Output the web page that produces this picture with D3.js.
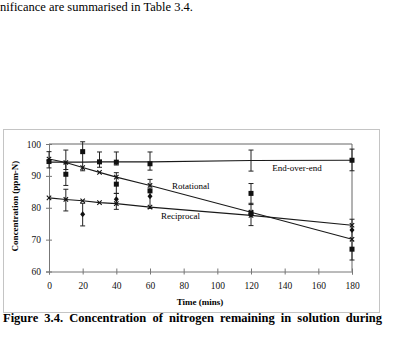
<!DOCTYPE html>
<html><head><meta charset="utf-8">
<script src="https://cdn.jsdelivr.net/npm/d3@7"></script>
<style>
html,body{margin:0;padding:0;background:#fff;}
svg{display:block;}
svg text{font-family:"Liberation Serif","Tinos","Times New Roman","DejaVu Serif",serif;}
</style></head>
<body><svg id="c" width="398" height="338"></svg>
<script>
// ---- data ----
const times = [0, 10, 20, 30, 40, 60, 120, 180];
const endOverEnd = [94.3, 94.3, 94.3, 94.4, 94.4, 94.4, 94.8, 94.9];
const rotational = [95.3, 94.2, 92.6, 91.1, 89.6, 87.0, 78.6, 70.1];
const reciprocal = [83.1, 82.6, 82.2, 81.6, 81.3, 80.2, 77.6, 74.5];
const squareT = [0, 10, 20, 30, 40, 40, 60, 60, 120, 120, 180, 180];
const squareV = [94.5, 90.5, 97.6, 94.4, 94.3, 87.4, 93.8, 85.3, 84.5, 78.3, 94.9, 67.0];
const diamondT = [20, 40, 60, 120, 180];
const diamondV = [78.0, 82.7, 83.6, 77.8, 73.0];
const errT =    [0,    10,   10,   10,   20,    20,   30,   40,   40,   40,   60,   60,   120,  120,  120,  180,  180];
const errLow =  [92.5, 92.0, 87.0, 79.0, 91.6,  74.3, 92.7, 93.4, 84.5, 79.5, 91.8, 79.8, 91.5, 81.0, 74.4, 91.6, 63.6];
const errHigh = [97.6, 98.1, 94.0, 85.8, 100.7, 81.4, 97.5, 97.5, 91.0, 84.5, 97.5, 88.9, 98.1, 87.6, 81.4, 98.4, 76.4];
const xTicks = [0, 20, 40, 60, 80, 100, 120, 140, 160, 180];
const yTicks = [60, 70, 80, 90, 100];
const seriesNames = ["End-over-end", "Rotational", "Reciprocal"];

const FONT = "Liberation Serif, Tinos, Times New Roman, DejaVu Serif, serif";
const svg = d3.select("#c");
const x = d3.scaleLinear().domain([0, 180]).range([49, 352]);
const y = d3.scaleLinear().domain([60, 100]).range([271.5, 144]);

// top text of the page
svg.append("text").attr("x", 0).attr("y", 11).attr("font-size", 12.5).attr("font-family", FONT)
  .text("nificance are summarised in Table 3.4.");

// outer chart box
svg.append("rect").attr("x", 3.5).attr("y", 129.5).attr("width", 376).attr("height", 183)
  .attr("fill", "none").attr("stroke", "#c4c4c4").attr("stroke-width", 1);

// plot border (top, right)
svg.append("path").attr("d", `M${x(0)},${y(100)}H${x(180)}V${y(60)}`)
  .attr("fill", "none").attr("stroke", "#666").attr("stroke-width", 1);

// axes
const xAxis = svg.append("g").attr("transform", `translate(0,${y(60)})`)
  .call(d3.axisBottom(x).tickValues(xTicks).tickSize(3).tickPadding(8).tickFormat(d3.format("d")));
xAxis.selectAll(".tick line").attr("y1", -3);
const yAxis = svg.append("g").attr("transform", `translate(${x(0)},0)`)
  .call(d3.axisLeft(y).tickValues(yTicks).tickSize(3).tickPadding(5).tickFormat(d3.format("d")));
yAxis.selectAll(".tick line").attr("x1", 3).attr("x2", -3);
[xAxis, yAxis].forEach(a => {
  a.attr("font-family", FONT);
  a.select(".domain").attr("stroke", "#777");
  a.selectAll(".tick line").attr("stroke", "#777");
  a.selectAll("text").attr("font-family", FONT).attr("font-size", 9.5).attr("fill", "#111");
});

// axis titles
svg.append("text").attr("x", 200).attr("y", 305).attr("text-anchor", "middle").attr("font-family", FONT)
  .attr("font-size", 9).attr("font-weight", "bold").text("Time (mins)");
svg.append("text").attr("transform", "translate(18,206) rotate(-90)").attr("text-anchor", "middle")
  .attr("font-family", FONT).attr("font-size", 9).attr("font-weight", "bold").text("Concentration (ppm-N)");

// error bars
const eb = svg.append("g").attr("stroke", "#222").attr("stroke-width", 1).attr("fill", "none");
errT.forEach((t, i) => {
  const cx = x(t);
  eb.append("path").attr("d",
    `M${cx},${y(errLow[i])}V${y(errHigh[i])}M${cx-2.5},${y(errLow[i])}h5M${cx-2.5},${y(errHigh[i])}h5`);
});

// mean lines
const line = d3.line().x((d, i) => x(times[i])).y(d => y(d));
[endOverEnd, rotational, reciprocal].forEach(s => {
  svg.append("path").datum(s).attr("d", line).attr("fill", "none")
    .attr("stroke", "#1a1a1a").attr("stroke-width", 1.1);
});

// x markers on means
const xm = svg.append("g").attr("stroke", "#111").attr("stroke-width", 1.1);
[rotational, reciprocal].forEach(s => {
  s.forEach((v, i) => {
    const cx = x(times[i]), cy = y(v);
    xm.append("path").attr("d", `M${cx-2.2},${cy-2.2}L${cx+2.2},${cy+2.2}M${cx-2.2},${cy+2.2}L${cx+2.2},${cy-2.2}`);
  });
});

// squares
svg.append("g").selectAll("rect").data(squareV).join("rect")
  .attr("x", (d, i) => x(squareT[i]) - 2.5).attr("y", d => y(d) - 2.5)
  .attr("width", 5).attr("height", 5).attr("fill", "#111");
// diamonds
svg.append("g").selectAll("path").data(diamondV).join("path")
  .attr("d", (d, i) => { const cx = x(diamondT[i]), cy = y(d); return `M${cx},${cy-3}L${cx+2.5},${cy}L${cx},${cy+3}L${cx-2.5},${cy}Z`; })
  .attr("fill", "#111");

// series labels
svg.append("text").attr("x", 297).attr("y", 171).attr("text-anchor", "middle").attr("font-family", FONT).attr("font-size", 9).text(seriesNames[0]);
svg.append("text").attr("x", 172).attr("y", 189).attr("font-family", FONT).attr("font-size", 9).text(seriesNames[1]);
svg.append("text").attr("x", 161).attr("y", 219).attr("font-family", FONT).attr("font-size", 9).text(seriesNames[2]);

// caption (justified)
const cap = svg.append("text").attr("x", 3).attr("y", 322).attr("font-family", FONT).attr("font-size", 12.5).attr("font-weight", "bold")
  .text("Figure 3.4. Concentration of nitrogen remaining in solution during");
const words = cap.text().split(" ").length;
const len = cap.node().getComputedTextLength();
cap.attr("word-spacing", Math.max(0, (379 - len) / (words - 1)));
</script></body></html>
